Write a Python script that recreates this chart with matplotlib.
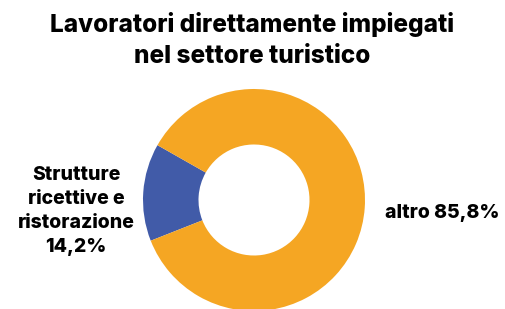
import matplotlib
matplotlib.use("Agg")
import matplotlib.pyplot as plt

labels = ["Strutture\nricettive e\nristorazione\n14,2%", "altro 85,8%"]
values = [14.2, 85.8]
colors = ["#415BA8", "#F5A623"]

plt.rcParams['font.family'] = ['Inter', 'DejaVu Sans']

W, H = 505, 309
fig = plt.figure(figsize=(W / 100, H / 100), dpi=100)

# donut centre at (254, 200) px, outer radius 111 px
cx, cy, r = 254, 200, 111
ax = fig.add_axes([(cx - r) / W, (H - cy - r) / H, 2 * r / W, 2 * r / H])
ax.pie(values, colors=colors, startangle=150.4, counterclock=True,
       wedgeprops=dict(width=0.5, edgecolor='none'))
ax.set_xlim(-1, 1)
ax.set_ylim(-1, 1)
ax.axis('off')

wt = 'heavy'
fig.text(252 / W, 1 - 40 / H, "Lavoratori direttamente impiegati\nnel settore turistico",
         ha='center', va='center', fontsize=17.5, fontweight=wt, linespacing=1.4)
fig.text(76 / W, 1 - 211 / H, labels[0], ha='center', va='center',
         fontsize=14, fontweight=wt, linespacing=1.45)
fig.text(442 / W, 1 - 213 / H, labels[1], ha='center', va='center',
         fontsize=14, fontweight=wt)

fig.savefig("out.png", dpi=100)
